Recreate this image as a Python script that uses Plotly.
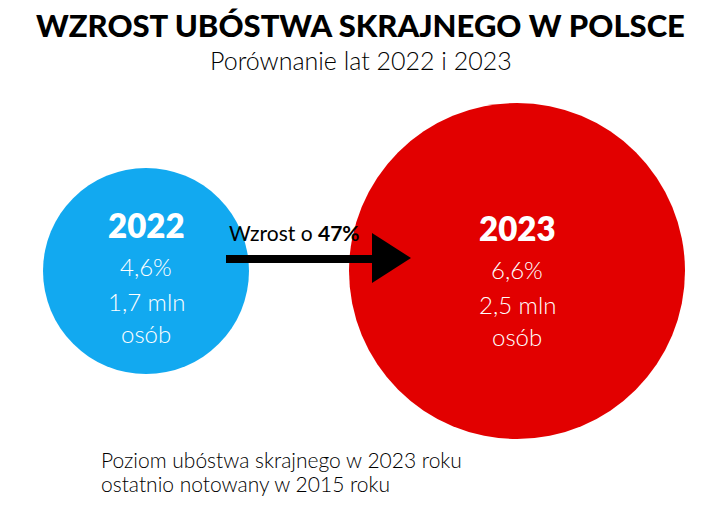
import plotly.graph_objects as go

# ---- data ----
years = ["2022", "2023"]
poverty_rate = [4.6, 6.6]          # %
people_mln = [1.7, 2.5]            # mln osób
growth_pct = 47
title = "WZROST UBÓSTWA SKRAJNEGO W POLSCE"
subtitle = "Porównanie lat 2022 i 2023"
footnote = ["Poziom ubóstwa skrajnego w 2023 roku", "ostatnio notowany w 2015 roku"]

# ---- layout / style ----
W, H = 719, 516
centers_x = [146, 517]
center_y = 271
radii = [103, 168]
colors = ["#12A9F0", "#E20000"]
FONT = "Lato"

fig = go.Figure()

def fmt(v):
    return f"{v:.1f}".replace(".", ",")

shapes = []
annotations = []
for i, yr in enumerate(years):
    cx, r = centers_x[i], radii[i]
    shapes.append(dict(type="circle", xref="x", yref="y",
                       x0=cx - r, x1=cx + r, y0=center_y - r, y1=center_y + r,
                       fillcolor=colors[i], line=dict(width=0), layer="below"))
    off = 3 if i else 0
    lines = [
        (yr, 33, 800, -46 + off),
        (f"{fmt(poverty_rate[i])}%", 24, 300, -5 + off),
        (f"{fmt(people_mln[i])} mln", 24, 300, 30 + off),
        ("osób", 24, 300, 62 + off),
    ]
    for txt, size, weight, dy in lines:
        annotations.append(dict(x=cx, y=center_y + dy, xref="x", yref="y",
                                text=txt, showarrow=False, xanchor="center", yanchor="middle",
                                font=dict(family=FONT, size=size, color="white", weight=weight)))

# arrow
shapes.append(dict(type="line", xref="x", yref="y", x0=226, x1=374, y0=259, y1=259,
                   line=dict(color="black", width=8)))
shapes.append(dict(type="path", xref="x", yref="y",
                   path="M 372 233 L 411 258 L 372 283 Z",
                   fillcolor="black", line=dict(width=0)))
annotations.append(dict(x=227, y=232, xref="x", yref="y", xanchor="left", yanchor="middle",
                        text=f"Wzrost o <b>{growth_pct}%</b>", showarrow=False,
                        font=dict(family=FONT, size=21, color="black", weight=400)))

# titles
annotations.append(dict(x=360, y=25, xref="x", yref="y", xanchor="center", yanchor="middle",
                        text=title, showarrow=False,
                        font=dict(family=FONT, size=31, color="black", weight=900)))
annotations.append(dict(x=361, y=60, xref="x", yref="y", xanchor="center", yanchor="middle",
                        text=subtitle, showarrow=False,
                        font=dict(family=FONT, size=25, color="black", weight=300)))
for k, line in enumerate(footnote):
    annotations.append(dict(x=99, y=459 + 24 * k, xref="x", yref="y", xanchor="left", yanchor="middle",
                            text=line, showarrow=False,
                            font=dict(family=FONT, size=21, color="black", weight=300)))

fig.update_layout(
    width=W, height=H, margin=dict(l=0, r=0, t=0, b=0),
    paper_bgcolor="white", plot_bgcolor="white",
    xaxis=dict(range=[0, W], visible=False, fixedrange=True),
    yaxis=dict(range=[H, 0], visible=False, fixedrange=True),
    shapes=shapes, annotations=annotations, showlegend=False,
)
fig.write_html("out.html")
